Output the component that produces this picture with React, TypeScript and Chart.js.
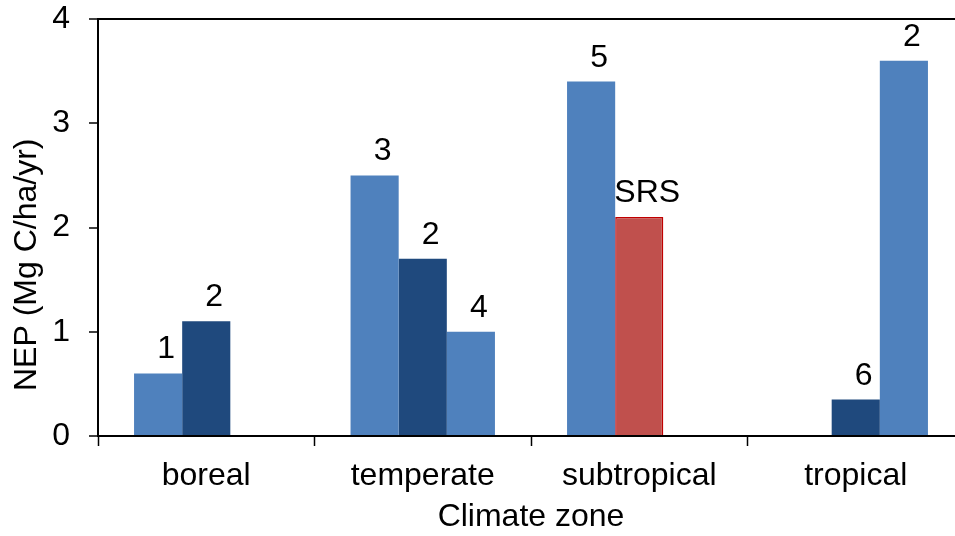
import React, { useEffect, useRef } from "react";
import { Chart, registerables } from "chart.js";

Chart.register(...registerables);

const categories = ["boreal", "temperate", "subtropical", "tropical"];
const seriesA: (number | null)[] = [0.6, 2.5, 3.4, null];
const seriesB: (number | null)[] = [1.1, 1.7, 2.1, 0.35];
const seriesC: (number | null)[] = [null, 1.0, null, 3.6];
const labelsA = ["1", "3", "5", ""];
const labelsB = ["2", "2", "SRS", "6"];
const labelsC = ["", "4", "", "2"];
const yTickValues = [0, 1, 2, 3, 4];
const xTitle = "Climate zone";
const yTitle = "NEP (Mg C/ha/yr)";

const LIGHT = "#4F81BD";
const DARK = "#1F497D";
const RED = "#C0504D";
const RED_BORDER = "#C00000";
const FONT = '"Liberation Sans", Arial, Helvetica, sans-serif';
const FS = 32;

const barLabelPlugin = {
  id: "barLabels",
  afterDatasetsDraw(chart: any) {
    const ctx = chart.ctx;
    const all = [labelsA, labelsB, labelsC];
    ctx.save();
    ctx.font = `${FS}px ${FONT}`;
    ctx.fillStyle = "#000";
    ctx.textAlign = "center";
    ctx.textBaseline = "alphabetic";
    all.forEach((labs, di) => {
      const meta = chart.getDatasetMeta(di);
      meta.data.forEach((el: any, i: number) => {
        const t = labs[i];
        const v = chart.data.datasets[di].data[i];
        if (!t || v === null || v === undefined) return;
        ctx.fillText(t, el.x + 8, el.y - 15);
      });
    });
    ctx.restore();
  },
};

const yTitlePlugin = {
  id: "yTitle",
  afterDraw(chart: any) {
    const ctx = chart.ctx;
    const area = chart.chartArea;
    ctx.save();
    ctx.font = `${FS}px ${FONT}`;
    ctx.fillStyle = "#000";
    ctx.translate(27, area.bottom - 45);
    ctx.rotate(-Math.PI / 2);
    ctx.textAlign = "left";
    ctx.textBaseline = "middle";
    ctx.fillText(yTitle, 0, 0);
    ctx.restore();
  },
};

export default function App() {
  const ref = useRef<HTMLCanvasElement | null>(null);
  useEffect(() => {
    if (!ref.current) return;
    Chart.defaults.font.family = FONT;
    const chart = new Chart(ref.current, {
      type: "bar",
      data: {
        labels: categories,
        datasets: [
          { data: seriesA, backgroundColor: LIGHT, borderWidth: 0 },
          {
            data: seriesB,
            backgroundColor: (c: any) => (labelsB[c.dataIndex] === "SRS" ? RED : DARK),
            borderColor: (c: any) => (labelsB[c.dataIndex] === "SRS" ? RED_BORDER : DARK),
            borderWidth: (c: any) => (labelsB[c.dataIndex] === "SRS" ? 1.5 : 0),
          },
          { data: seriesC, backgroundColor: LIGHT, borderWidth: 0 },
        ],
      },
      options: {
        animation: false,
        responsive: false,
        events: [],
        layout: { padding: { top: 19, right: 8, left: 0, bottom: 0 } },
        datasets: { bar: { categoryPercentage: 0.667, barPercentage: 1 } },
        plugins: { legend: { display: false }, tooltip: { enabled: false } },
        scales: {
          x: {
            type: "category",
            grid: {
              display: true,
              drawOnChartArea: false,
              drawTicks: true,
              tickLength: 10,
              tickColor: "#000",
              tickWidth: 1.5,
              color: "#000",
              offset: true,
            },
            border: { display: true, color: "#000", width: 2 },
            ticks: { font: { size: FS }, color: "#000", padding: 11, maxRotation: 0 },
            title: {
              display: true,
              text: xTitle,
              font: { size: FS },
              color: "#000",
              padding: { top: 0, bottom: 0 },
            },
            afterFit: (s: any) => {
              s.height = 100;
            },
          },
          y: {
            min: 0,
            max: 4,
            afterBuildTicks: (s: any) => {
              s.ticks = yTickValues.map((v) => ({ value: v }));
            },
            ticks: { font: { size: FS }, color: "#000", padding: 19 },
            grid: {
              color: (c: any) => (c.tick && c.tick.value === 4 ? "#000" : "rgba(0,0,0,0)"),
              lineWidth: 2,
              drawTicks: true,
              tickLength: 9,
              tickColor: "#000",
              tickWidth: 1.5,
            },
            border: { display: true, color: "#000", width: 2 },
            afterFit: (s: any) => {
              s.width = 98;
              s.paddingTop = 0;
              s.paddingBottom = 0;
            },
          },
        },
      } as any,
      plugins: [barLabelPlugin, yTitlePlugin],
    });
    return () => chart.destroy();
  }, []);

  return (
    <div
      style={{
        position: "fixed",
        left: 0,
        top: 0,
        width: 955,
        height: 536,
        overflow: "hidden",
        background: "#fff",
      }}
    >
      <canvas ref={ref} width={972} height={536} style={{ display: "block" }} />
    </div>
  );
}
